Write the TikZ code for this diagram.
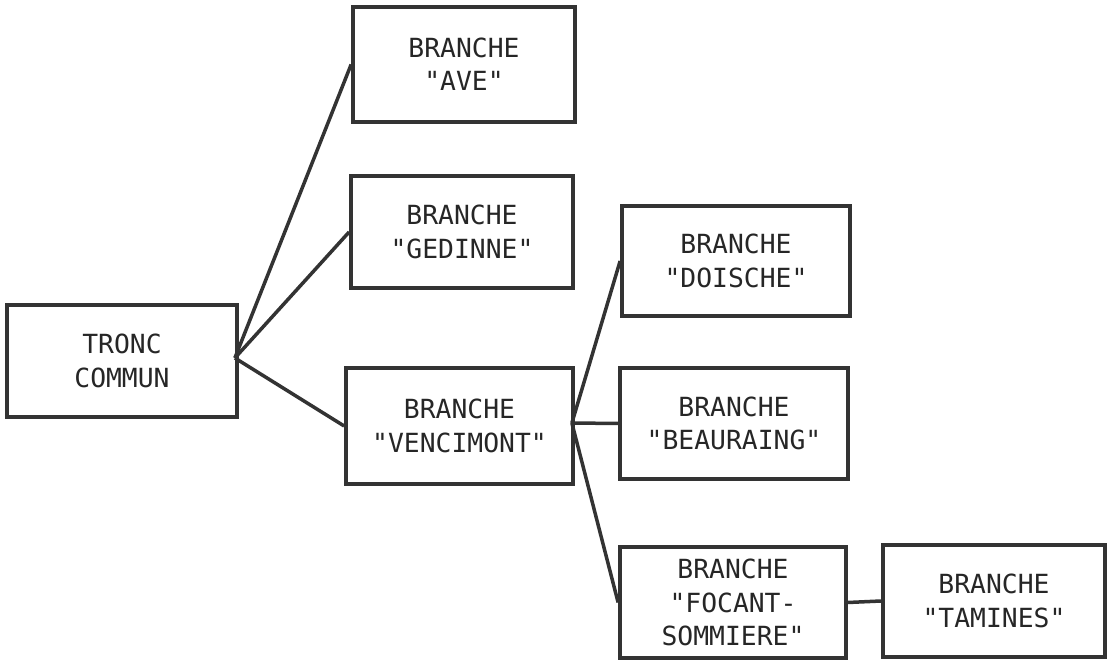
\documentclass[tikz,border=0pt]{standalone}
\usepackage{fontspec}
\newfontfamily\boxfont{DejaVu Sans Mono}
\usetikzlibrary{calc}

\begin{document}
\begin{tikzpicture}[
		branche/.style={draw=black!80, line width=0.75mm, rectangle, align=center, inner sep=0pt, text=black!85, font=\boxfont\fontsize{15}{19}\selectfont},
		lien/.style={draw=black!80, line width=0.7mm}]
			%%%%% START %%%%%
			\useasboundingbox (0, 0) rectangle (22.16, 13.22);
			
			\node[branche, minimum width=4.6cm, minimum height=2.24cm] (tronc) at (2.44, 6.00) {TRONC\\COMMUN};
			
			\node[branche, minimum width=4.44cm, minimum height=2.3cm] (ave) at (9.28, 11.93) {BRANCHE\\"AVE"};
			\node[branche, minimum width=4.44cm, minimum height=2.24cm] (gedinne) at (9.24, 8.58) {BRANCHE\\"GEDINNE"};
			\node[branche, minimum width=4.54cm, minimum height=2.32cm] (vencimont) at (9.19, 4.70) {BRANCHE\\"VENCIMONT"};
			
			\node[branche, minimum width=4.56cm, minimum height=2.2cm] (doische) at (14.72, 8.00) {BRANCHE\\"DOISCHE"};
			\node[branche, minimum width=4.56cm, minimum height=2.22cm] (beauraing) at (14.68, 4.75) {BRANCHE\\"BEAURAING"};
			\node[branche, minimum width=4.52cm, minimum height=2.22cm] (focant) at (14.66, 1.17) {BRANCHE\\"FOCANT-\\SOMMIERE"};
			
			\node[branche, minimum width=4.44cm, minimum height=2.24cm] (tamines) at (19.88, 1.20) {BRANCHE\\"TAMINES"};
			
			\coordinate (hubT) at ($(tronc.east)+(-0.08, 0.06)$);
			\draw[lien] (hubT) -- (ave.west);
			\draw[lien] (hubT) -- (gedinne.west);
			\draw[lien] (hubT) -- (vencimont.west);
			
			\coordinate (hubV) at ($(vencimont.east)+(-0.06, 0.06)$);
			\draw[lien] (hubV) -- (doische.west);
			\draw[lien] (hubV) -- (beauraing.west);
			\draw[lien] (hubV) -- (focant.west);
			
			\draw[lien] (focant.east) -- (tamines.west);
			%%%%% END %%%%%
		\end{tikzpicture}
\end{document}
